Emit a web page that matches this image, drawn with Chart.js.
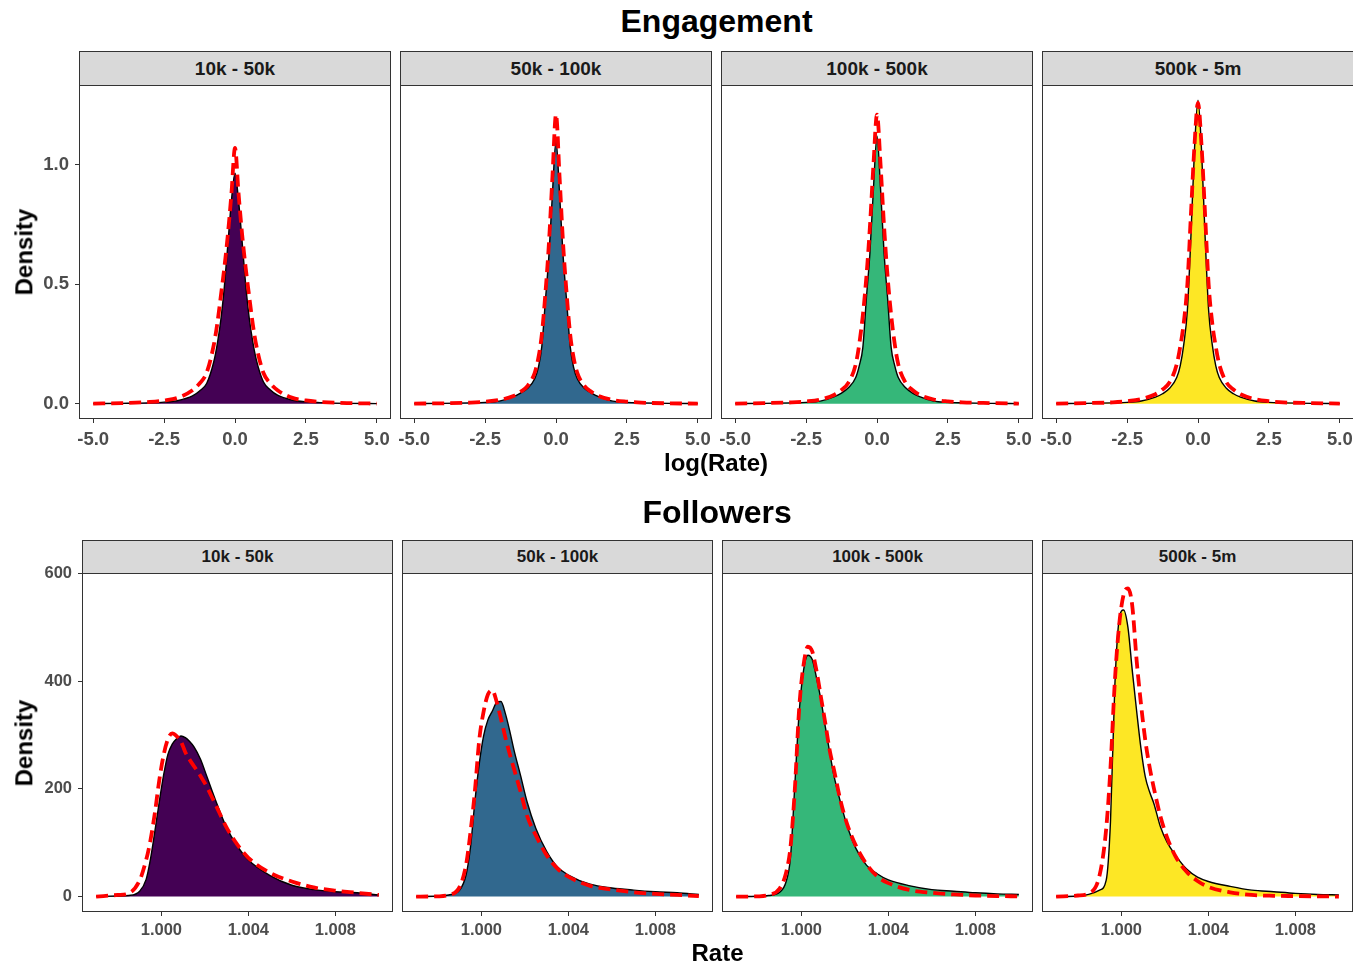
<!DOCTYPE html>
<html>
<head>
<meta charset="utf-8">
<title>Engagement and Followers rate densities</title>
<script src="https://cdn.jsdelivr.net/npm/chart.js@4.4.1/dist/chart.umd.min.js"></script>
<style>
  html, body { margin: 0; padding: 0; background: #fff; overflow: hidden; width: 1353px; height: 964px; }
  #page { position: relative; width: 1353px; height: 964px; font-family: "Liberation Sans", Arial, sans-serif; overflow: hidden; }
  #page canvas { position: absolute; }
  .txt { position: absolute; white-space: nowrap; font-weight: bold; text-align: center; }
  .strip { position: absolute; box-sizing: border-box; background: #D9D9D9; border: 1px solid #333333;
           color: #1A1A1A; font-weight: bold; text-align: center; white-space: nowrap; }
</style>
</head>
<body>
<div id="page"></div>
<script>
// ---- Facet labels ----
const STRIP_LABELS = ['10k - 50k', '50k - 100k', '100k - 500k', '500k - 5m'];

// ---- Engagement: density of log(Rate) (kernel estimate and fitted curve) ----
const ENG_X = [-5, -4, -3, -2.5, -2, -1.5, -1.25, -1, -0.75, -0.625, -0.5, -0.375, -0.25, -0.125, 0,
               0.125, 0.25, 0.375, 0.5, 0.625, 0.75, 1, 1.25, 1.5, 2, 2.5, 3, 4, 5];
const ENG_KDE_10K_50K   = [0.001, 0.002, 0.004, 0.007, 0.014, 0.033, 0.054, 0.085, 0.175, 0.25, 0.35, 0.49, 0.67, 0.85, 0.965,
                           0.85, 0.68, 0.50, 0.36, 0.26, 0.185, 0.092, 0.058, 0.036, 0.016, 0.008, 0.005, 0.002, 0.001];
const ENG_FIT_10K_50K   = [0.001, 0.003, 0.008, 0.014, 0.026, 0.057, 0.085, 0.13, 0.245, 0.335, 0.45, 0.57, 0.71, 0.88, 1.07,
                           0.88, 0.71, 0.57, 0.45, 0.335, 0.245, 0.13, 0.085, 0.057, 0.026, 0.014, 0.008, 0.003, 0.001];
const ENG_KDE_50K_100K  = [0.001, 0.002, 0.004, 0.006, 0.011, 0.03, 0.045, 0.065, 0.105, 0.15, 0.24, 0.43, 0.62, 0.88, 1.10,
                           0.88, 0.62, 0.43, 0.24, 0.15, 0.105, 0.065, 0.045, 0.03, 0.011, 0.006, 0.004, 0.002, 0.001];
const ENG_FIT_50K_100K  = [0.001, 0.002, 0.005, 0.009, 0.016, 0.033, 0.05, 0.075, 0.13, 0.19, 0.29, 0.46, 0.67, 0.95, 1.21,
                           0.95, 0.67, 0.46, 0.29, 0.19, 0.13, 0.075, 0.05, 0.033, 0.016, 0.009, 0.005, 0.002, 0.001];
const ENG_KDE_100K_500K = [0.001, 0.002, 0.004, 0.006, 0.011, 0.03, 0.045, 0.068, 0.11, 0.16, 0.235, 0.44, 0.63, 0.90, 1.12,
                           0.90, 0.63, 0.44, 0.235, 0.16, 0.11, 0.068, 0.045, 0.03, 0.011, 0.006, 0.004, 0.002, 0.001];
const ENG_FIT_100K_500K = [0.001, 0.003, 0.006, 0.01, 0.018, 0.038, 0.058, 0.09, 0.165, 0.25, 0.37, 0.53, 0.74, 1.0, 1.21,
                           1.0, 0.74, 0.53, 0.37, 0.25, 0.165, 0.09, 0.058, 0.038, 0.018, 0.01, 0.006, 0.003, 0.001];
const ENG_KDE_500K_5M   = [0.001, 0.002, 0.004, 0.006, 0.012, 0.028, 0.042, 0.065, 0.11, 0.16, 0.25, 0.39, 0.70, 1.06, 1.27,
                           1.06, 0.70, 0.39, 0.25, 0.16, 0.11, 0.065, 0.042, 0.028, 0.012, 0.006, 0.004, 0.002, 0.001];
const ENG_FIT_500K_5M   = [0.001, 0.003, 0.006, 0.011, 0.02, 0.04, 0.06, 0.09, 0.165, 0.24, 0.34, 0.50, 0.79, 1.08, 1.26,
                           1.08, 0.79, 0.50, 0.34, 0.24, 0.165, 0.09, 0.06, 0.04, 0.02, 0.011, 0.006, 0.003, 0.001];
const ENG_X_TICKS = [-5, -2.5, 0, 2.5, 5];
const ENG_Y_TICKS = [0, 0.5, 1.0];

// ---- Followers: density of Rate (kernel estimate and fitted curve) ----
const FOL_X = [0.9970, 0.9980, 0.9985, 0.9990, 0.9993, 0.9995, 0.9997, 0.9999, 1.0001, 1.0003, 1.0005, 1.0007,
               1.0009, 1.0011, 1.0013, 1.0015, 1.0018, 1.0021, 1.0025, 1.0030, 1.0035, 1.0040, 1.0050, 1.0060,
               1.0070, 1.0080, 1.0090, 1.0100];
const FOL_KDE_10K_50K   = [0, 1, 2, 10, 32, 70, 121, 175, 225, 264, 283, 293, 298, 295, 288, 278, 255, 222, 178, 128,
                           93, 68, 39, 21, 13, 9, 7, 3];
const FOL_FIT_10K_50K   = [0, 3, 6, 30, 68, 105, 155, 215, 262, 292, 303, 298, 288, 268, 254, 242, 224, 203, 170, 128,
                           96, 72, 44, 28, 17, 11, 7, 3];
const FOL_KDE_50K_100K  = [0, 1, 3, 12, 41, 92, 176, 246, 298, 328, 344, 360, 362, 340, 308, 272, 225, 176, 127, 84,
                           55, 40, 23, 16, 12, 9, 7, 4];
const FOL_FIT_50K_100K  = [0, 0.5, 3, 18, 60, 120, 195, 290, 343, 375, 383, 362, 330, 296, 265, 237, 195, 150, 114, 77,
                           52, 37, 20, 13, 8, 5, 3, 1];
const FOL_KDE_100K_500K = [0, 0.5, 2, 8, 28, 73, 208, 343, 420, 448, 440, 405, 365, 315, 268, 224, 175, 132, 90, 58,
                           42, 31, 20, 13, 10, 7, 5, 4];
const FOL_FIT_100K_500K = [0, 0.5, 3, 15, 45, 92, 200, 350, 430, 464, 455, 418, 370, 322, 272, 235, 178, 135, 95, 60,
                           37, 25, 12, 7, 4, 2, 1, 0.5];
const FOL_KDE_500K_5M   = [0, 1, 4, 12, 30, 140, 392, 515, 532, 500, 420, 345, 275, 222, 194, 172, 129, 101, 76, 51,
                           36, 28, 19, 12, 9, 6, 4, 3];
const FOL_FIT_500K_5M   = [0, 2, 6, 40, 125, 240, 400, 505, 560, 572, 540, 439, 358, 290, 240, 200, 148, 110, 74, 46,
                           29, 18, 8, 3, 1.5, 1, 0.5, 0];
const FOL_X_TICKS = [1.000, 1.004, 1.008];
const FOL_Y_TICKS = [0, 200, 400, 600];

// viridis, one colour per follower band
const BAND_COLORS = ['#440154', '#31688E', '#35B779', '#FDE725'];

// ---- layout ----
const FONT = '"Liberation Sans", Arial, sans-serif';
const PAD_L = 80, PAD_R = 30, PAD_T = 24, PAD_B = 40;
const ROWS = [
  { // Engagement row
    panelLeft: [79, 400, 721, 1042], panelW: 312, panelTop: 85, panelH: 334,
    stripTop: 51, stripH: 35, stripFont: 19,
    xs: ENG_X,
    kde: [ENG_KDE_10K_50K, ENG_KDE_50K_100K, ENG_KDE_100K_500K, ENG_KDE_500K_5M],
    fit: [ENG_FIT_10K_50K, ENG_FIT_50K_100K, ENG_FIT_100K_500K, ENG_FIT_500K_5M],
    xTicks: ENG_X_TICKS, yTicks: ENG_Y_TICKS,
    xFmt: v => v.toFixed(1), yFmt: v => v.toFixed(1),
    tickFont: 18.5, xPad: 6, yPad: 6
  },
  { // Followers row
    panelLeft: [82, 402, 722, 1042], panelW: 311, panelTop: 573, panelH: 339,
    stripTop: 540, stripH: 34, stripFont: 17,
    xs: FOL_X,
    kde: [FOL_KDE_10K_50K, FOL_KDE_50K_100K, FOL_KDE_100K_500K, FOL_KDE_500K_5M],
    fit: [FOL_FIT_10K_50K, FOL_FIT_50K_100K, FOL_FIT_100K_500K, FOL_FIT_500K_5M],
    xTicks: FOL_X_TICKS, yTicks: FOL_Y_TICKS,
    xFmt: v => v.toFixed(3), yFmt: v => String(Math.round(v)),
    tickFont: 16.5, xPad: 5, yPad: 6
  }
];

const page = document.getElementById('page');

function addText(text, cx, cy, size, rotate) {
  const d = document.createElement('div');
  d.className = 'txt';
  d.textContent = text;
  d.style.fontSize = size + 'px';
  d.style.lineHeight = size + 'px';
  d.style.color = '#000';
  d.style.left = '0px';
  d.style.top = '0px';
  page.appendChild(d);
  const w = d.offsetWidth;
  d.style.left = (cx - w / 2) + 'px';
  d.style.top = (cy - size / 2) + 'px';
  if (rotate) d.style.transform = 'rotate(-90deg)';
  return d;
}

// ggplot-like expanded range (5% each side)
function expand(lo, hi) {
  const m = (hi - lo) * 0.05;
  return [lo - m, hi + m];
}

// panel frame drawn over the plotting area
const panelBorder = {
  id: 'panelBorder',
  afterDraw(chart) {
    const { ctx, chartArea: a } = chart;
    ctx.save();
    ctx.strokeStyle = '#333333';
    ctx.lineWidth = 1;
    ctx.strokeRect(a.left + 0.5, a.top + 0.5, a.right - a.left - 1, a.bottom - a.top - 1);
    ctx.restore();
  }
};

ROWS.forEach(row => {
  const xr = expand(Math.min(...row.xs), Math.max(...row.xs));
  const yMax = Math.max(...row.kde.flat(), ...row.fit.flat());
  const yr = expand(0, yMax);

  row.panelLeft.forEach((left, i) => {
    // strip header
    const s = document.createElement('div');
    s.className = 'strip';
    s.textContent = STRIP_LABELS[i];
    s.style.left = left + 'px';
    s.style.top = row.stripTop + 'px';
    s.style.width = row.panelW + 'px';
    s.style.height = row.stripH + 'px';
    s.style.fontSize = row.stripFont + 'px';
    s.style.lineHeight = (row.stripH - 2) + 'px';
    page.appendChild(s);

    const showY = i === 0;
    const W = row.panelW + PAD_L + PAD_R;
    const H = row.panelH + PAD_T + PAD_B;
    const c = document.createElement('canvas');
    c.width = W; c.height = H;
    c.style.width = W + 'px'; c.style.height = H + 'px';
    c.style.left = (left - PAD_L) + 'px';
    c.style.top = (row.panelTop - PAD_T) + 'px';
    page.appendChild(c);

    const tickFont = { family: FONT, weight: 'bold', size: row.tickFont };
    new Chart(c, {
      type: 'line',
      data: {
        datasets: [
          { // empirical density, filled (drawn underneath)
            order: 2,
            data: row.xs.map((x, k) => ({ x: x, y: row.kde[i][k] })),
            borderColor: '#000000', borderWidth: 1.4,
            backgroundColor: BAND_COLORS[i], fill: 'origin',
            pointRadius: 0, cubicInterpolationMode: 'monotone'
          },
          { // fitted density, dashed on top
            order: 1,
            data: row.xs.map((x, k) => ({ x: x, y: row.fit[i][k] })),
            borderColor: '#FF0000', borderWidth: 3.8, borderDash: [12, 6],
            fill: false, pointRadius: 0, cubicInterpolationMode: 'monotone'
          }
        ]
      },
      options: {
        responsive: false, animation: false, devicePixelRatio: 1,
        layout: { padding: { left: 0, right: PAD_R, top: PAD_T, bottom: 0 } },
        plugins: { legend: { display: false }, tooltip: { enabled: false }, title: { display: false } },
        scales: {
          x: {
            type: 'linear', min: xr[0], max: xr[1],
            afterBuildTicks: sc => { sc.ticks = row.xTicks.map(v => ({ value: v })); },
            afterFit: sc => { sc.height = PAD_B; },
            grid: { drawOnChartArea: false, drawTicks: true, tickLength: 4, tickColor: '#333333', tickWidth: 1 },
            border: { display: false },
            ticks: { callback: v => row.xFmt(v), color: '#4D4D4D', font: tickFont,
                     padding: row.xPad, maxRotation: 0, autoSkip: false }
          },
          y: {
            // only the first panel of a row carries tick marks and labels
            type: 'linear', min: yr[0], max: yr[1],
            afterBuildTicks: sc => { sc.ticks = row.yTicks.map(v => ({ value: v })); },
            afterFit: sc => { sc.width = PAD_L; },
            grid: { display: showY, drawOnChartArea: false, drawTicks: true, tickLength: 4, tickColor: '#333333', tickWidth: 1 },
            border: { display: false },
            ticks: { display: showY, callback: v => row.yFmt(v), color: '#4D4D4D', font: tickFont,
                     padding: row.yPad, autoSkip: false }
          }
        }
      },
      plugins: [panelBorder]
    });
  });
});

// titles and axis titles
addText('Engagement', 716.5, 21, 32);
addText('log(Rate)', 716, 462.5, 24);
addText('Followers', 717, 512, 32);
addText('Rate', 717.5, 952.5, 24);
addText('Density', 24, 252, 24, true);
addText('Density', 24, 742.5, 24, true);
</script>
</body>
</html>
